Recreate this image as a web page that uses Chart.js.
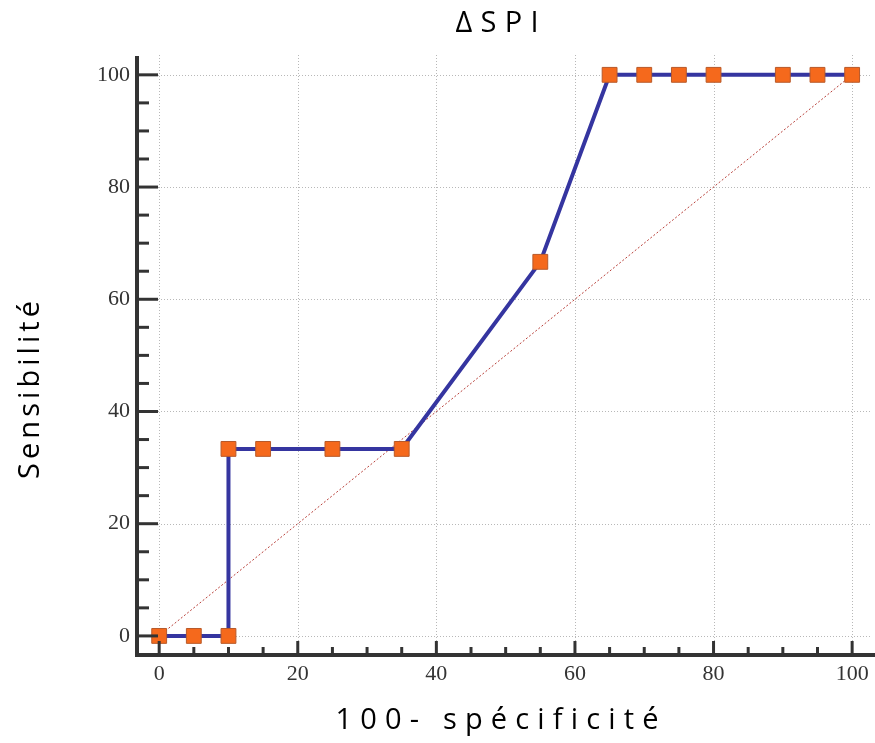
<!DOCTYPE html>
<html>
<head>
<meta charset="utf-8">
<title>ΔSPI</title>
<script src="https://cdn.jsdelivr.net/npm/chart.js@4.4.1/dist/chart.umd.min.js"></script>
<style>
  html, body { margin: 0; padding: 0; background: #fff; }
  #wrap { width: 875px; height: 743px; }
</style>
</head>
<body>
<div id="wrap"><canvas id="rocChart" width="875" height="743"></canvas></div>
<script>
// courbe ROC : 100 - spécificité en x, sensibilité en y
const fauxPositifs = [0, 5, 10, 10, 15, 25, 35, 55, 65, 70, 75, 80, 90, 95, 100];
const sensibilite = [0, 0, 0, 33.33, 33.33, 33.33, 33.33, 66.67, 100, 100, 100, 100, 100, 100, 100];
const diagonale = [0, 100];
const graduations = [0, 20, 40, 60, 80, 100];
const titre = 'ΔSPI';
const titreX = '100- spécificité';
const titreY = 'Sensibilité';

const rocPoints = fauxPositifs.map((x, i) => ({ x, y: sensibilite[i] }));
const diagPoints = diagonale.map(v => ({ x: v, y: v }));

// texte espacé pour tenir sur une largeur donnée, centré sur (0, 0)
function texteEspace(ctx, txt, largeur, taille) {
  ctx.font = `${taille}px "Open Sans"`;
  ctx.letterSpacing = '0px';
  const w0 = ctx.measureText(txt).width;
  const esp = Math.max(0, (largeur - w0) / (txt.length - 1));
  ctx.letterSpacing = esp + 'px';
  ctx.fillText(txt, esp / 2, 0);
}

// grille pointillée + graduations internes + titres
const habillage = {
  id: 'habillage',
  beforeDatasetsDraw(chart) {
    const { ctx, chartArea: a, scales: { x, y } } = chart;
    ctx.save();
    ctx.strokeStyle = '#b8b8b8';
    ctx.lineWidth = 1;
    ctx.setLineDash([1, 2]);
    graduations.forEach(v => {
      const px = Math.round(x.getPixelForValue(v)) + 0.5;
      ctx.beginPath();
      ctx.moveTo(px, a.top - 3);
      ctx.lineTo(px, a.bottom);
      ctx.stroke();
      const py = Math.round(y.getPixelForValue(v)) + 0.5;
      ctx.beginPath();
      ctx.moveTo(a.left, py);
      ctx.lineTo(a.right - 4, py);
      ctx.stroke();
    });
    ctx.restore();
  },
  afterDraw(chart) {
    const { ctx, chartArea: a, scales: { x, y } } = chart;
    ctx.save();
    ctx.strokeStyle = '#333';
    ctx.lineWidth = 3;
    for (let v = 0; v <= 100; v += 5) {
      const major = v % 20 === 0;
      const py = y.getPixelForValue(v);
      ctx.beginPath();
      ctx.moveTo(a.left, py);
      ctx.lineTo(a.left + (major ? 21 : 12), py);
      ctx.stroke();
      const px = x.getPixelForValue(v);
      ctx.beginPath();
      ctx.moveTo(px, a.bottom);
      ctx.lineTo(px, a.bottom - (major ? 14 : 8));
      ctx.stroke();
    }

    ctx.fillStyle = '#000';
    ctx.textAlign = 'center';
    ctx.textBaseline = 'middle';

    ctx.save();
    ctx.translate(497, 24);
    texteEspace(ctx, titre, 83, 29);
    ctx.restore();

    ctx.save();
    ctx.translate(497, 721);
    texteEspace(ctx, titreX, 323, 29);
    ctx.restore();

    ctx.save();
    ctx.translate(31, 390);
    ctx.rotate(-Math.PI / 2);
    texteEspace(ctx, titreY, 178, 29);
    ctx.restore();

    ctx.restore();
  }
};

const serif = { family: '"Liberation Serif", serif', size: 22 };

new Chart(document.getElementById('rocChart'), {
  type: 'scatter',
  data: {
    datasets: [
      {
        label: 'ROC',
        data: rocPoints,
        showLine: true,
        borderColor: '#3535a0',
        borderWidth: 4,
        pointStyle: 'rect',
        pointRadius: 10.5,
        pointHoverRadius: 10.5,
        pointBackgroundColor: '#f5691c',
        pointBorderColor: '#b85a2a',
        pointBorderWidth: 1,
        order: 0
      },
      {
        label: 'diagonale',
        data: diagPoints,
        showLine: true,
        borderColor: '#b8403a',
        borderWidth: 1,
        borderDash: [2, 2],
        pointRadius: 0,
        order: 1
      }
    ]
  },
  options: {
    responsive: false,
    animation: false,
    layout: { autoPadding: false, padding: { top: 58, left: 0, right: 0, bottom: 0 } },
    plugins: {
      legend: { display: false },
      tooltip: { enabled: false },
      title: { display: false }
    },
    scales: {
      x: {
        type: 'linear',
        min: -3.2,
        max: 103.3,
        afterFit: s => { s.height = 88; s.paddingLeft = 0; s.paddingRight = 0; },
        afterBuildTicks: s => { s.ticks = graduations.map(v => ({ value: v })); },
        grid: { drawOnChartArea: false, drawTicks: false },
        border: { display: true, color: '#333', width: 4 },
        ticks: { font: serif, color: '#333', padding: 6, maxRotation: 0 }
      },
      y: {
        type: 'linear',
        min: -3.4,
        max: 103,
        afterFit: s => { s.width = 137; s.paddingTop = 0; s.paddingBottom = 0; },
        afterBuildTicks: s => { s.ticks = graduations.map(v => ({ value: v })); },
        grid: { drawOnChartArea: false, drawTicks: false },
        border: { display: true, color: '#333', width: 4 },
        ticks: { font: serif, color: '#333', padding: 7 }
      }
    }
  },
  plugins: [habillage]
});
</script>
</body>
</html>
